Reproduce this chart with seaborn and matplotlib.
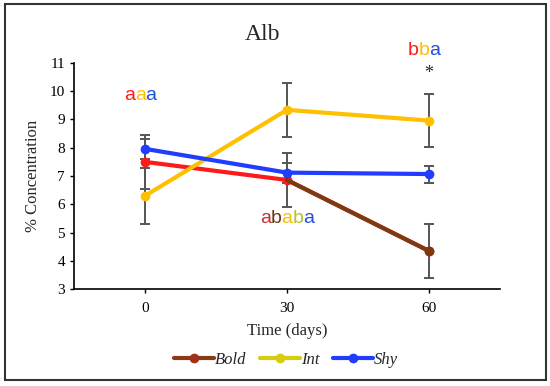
import pandas as pd
import matplotlib.pyplot as plt
import seaborn as sns
from matplotlib.lines import Line2D
from matplotlib.patches import Rectangle

sns.set_theme(style="white")
plt.rcParams['font.family'] = ['Liberation Serif', 'DejaVu Serif']

# dados
dias = [0, 30, 60]
bold = [7.50, 6.86, 4.35]
bold_dp = [0.95, 0.95, 0.95]
inter = [6.30, 9.34, 8.96]
inter_dp = [1.00, 0.95, 0.93]
shy = [7.96, 7.12, 7.07]
shy_dp = [0.35, 0.35, 0.30]

grupos = ['Bold', 'Int', 'Shy']
cores = {'Bold': '#ff1a1a', 'Int': '#ffc000', 'Shy': '#1f3cff'}
cor_marrom = '#7a3a12'
cores_legenda = {'Bold': '#8a3a14', 'Int': '#d8cc10', 'Shy': '#1f3cff'}

# letras de significância (texto, cor de cada letra)
letras_0 = ('aaa', ['#ff1a1a', '#ffc000', '#1f4ee0'])
letras_30 = ('ababa', ['#c8302a', '#6b3516', '#f2c200', '#b5c22a', '#2a4de0'])
letras_60 = ('bba', ['#ff1a1a', '#ffc000', '#1f4ee0'])

df = pd.DataFrame({
    'Dia': dias * 3,
    'Conc': bold + inter + shy,
    'DP': bold_dp + inter_dp + shy_dp,
    'Grupo': [g for g in grupos for _ in dias],
})

fig = plt.figure(figsize=(5.5, 3.86), dpi=100)
ax = fig.add_axes([0.1345, 0.251, 0.7745, 0.586])

# barras de erro
ax.errorbar(df['Dia'], df['Conc'], yerr=df['DP'], fmt='none', ecolor='#555555',
            elinewidth=1.4, capsize=3.5, capthick=1.4, zorder=1)

sns.lineplot(data=df, x='Dia', y='Conc', hue='Grupo', palette=cores, marker='o',
             markersize=7, markeredgewidth=0, linewidth=3, legend=False, ax=ax, zorder=3)

# trecho final do Bold aparece marrom no original
df_b = df[(df['Grupo'] == 'Bold') & (df['Dia'] >= 30)]
sns.lineplot(data=df_b, x='Dia', y='Conc', color=cor_marrom, marker='o', markevery=[1],
             markersize=7, markeredgewidth=0, linewidth=3, ax=ax, zorder=4)

ax.set_xlim(-15, 75)
ax.set_ylim(3, 11)
ax.set_xticks(dias)
ax.set_yticks(range(3, 12))
ax.tick_params(axis='both', labelsize=11, length=3, width=1, colors='black',
               direction='out', left=True, bottom=True)
ax.tick_params(axis='x', pad=6)
for s in ['top', 'right']:
    ax.spines[s].set_visible(False)
for s in ['left', 'bottom']:
    ax.spines[s].set_color('black')
    ax.spines[s].set_linewidth(1.2)

ax.set_xlabel('Time (days)', fontsize=12, labelpad=6)
ax.set_ylabel('% Concentration', fontsize=12, labelpad=6)
fig.text(0.477, 0.91, 'Alb', ha='center', va='center', fontsize=17)


def letras_coloridas(x, y, texto, cores_l, tam=14):
    passo = 0.556 * tam
    n = len(texto)
    for i, (ch, c) in enumerate(zip(texto, cores_l)):
        off = (i - (n - 1) / 2) * passo
        ax.annotate(ch, (x, y), xytext=(off, 0), textcoords='offset points',
                    ha='center', va='center', color=c, fontsize=tam,
                    family=['Liberation Sans', 'DejaVu Sans'], annotation_clip=False)


letras_coloridas(-1, 9.83, *letras_0)
letras_coloridas(30, 5.48, *letras_30)
letras_coloridas(59, 11.45, *letras_60)
ax.annotate('*', (60, 10.62), ha='center', va='center', fontsize=13,
            color='#222222', annotation_clip=False)

handles = [Line2D([], [], color=cores_legenda[g], lw=3, marker='o', markersize=7,
                  markeredgewidth=0) for g in grupos]
handles[0].set_markerfacecolor('#a0301a')
fig.legend(handles, grupos, loc='center', bbox_to_anchor=(0.52, 0.068), ncol=3,
           frameon=False, prop={'style': 'italic', 'size': 12}, handlelength=2.4,
           columnspacing=0.8, handletextpad=0.05)

fig.patches.append(Rectangle((0.009, 0.0155), 0.984, 0.974, transform=fig.transFigure,
                             fill=False, edgecolor='#333333', lw=1.5))

fig.savefig('out.png', dpi=100)
